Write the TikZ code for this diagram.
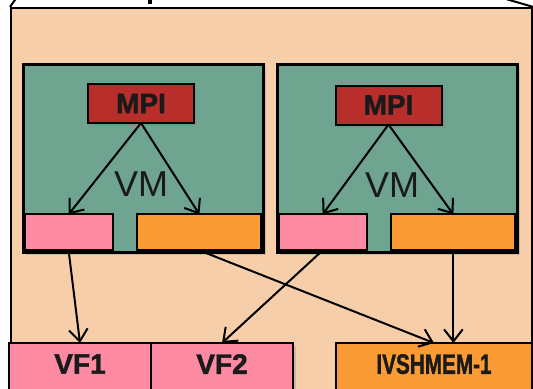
\documentclass[tikz,border=0pt]{standalone}
\usepackage{fontspec}
\usepackage{graphicx}
\setmainfont[BoldFeatures={FakeBold=1.6}]{Liberation Sans}
\usetikzlibrary{arrows.meta,positioning,shadows}

\definecolor{hostpeach}{HTML}{F6CEAA}
\definecolor{vmteal}{HTML}{6FA491}
\definecolor{mpired}{HTML}{B82E2B}
\definecolor{vfpink}{HTML}{FB8AA2}
\definecolor{shmorange}{HTML}{FA9B36}
\definecolor{inktext}{HTML}{1A1A1A}

\begin{document}
\begin{tikzpicture}[
    x=0.75pt, y=-0.75pt,
    box/.style={
      draw,
      line width=1.5pt,
      inner sep=0pt,
      outer sep=0pt,
      text=inktext,
      font=\bfseries\fontsize{21}{21}\selectfont
    },
    shadowed/.style={drop shadow={shadow xshift=2.5pt, shadow yshift=-2.5pt, opacity=0.3}},
    vmbox/.style={box, shadowed, line width=2.25pt, fill=vmteal, minimum width=180pt, minimum height=141pt, anchor=north west},
    mpibox/.style={box, shadowed, fill=mpired, minimum width=79.5pt, minimum height=29.25pt},
    nicbox/.style={box, minimum height=27pt},
    devbox/.style={box, shadowed, minimum width=106.5pt, minimum height=37.5pt, text depth=6pt, anchor=north west},
    vmlabel/.style={text=inktext, font=\fontsize{27}{27}\selectfont},
    arrow/.style={-{Straight Barb[length=9pt,width=14pt]}, line width=1.5pt}
  ]
    \useasboundingbox (0,0) rectangle (533,389);

    % host frame
    \node[draw, line width=1.8pt, fill=hostpeach, minimum width=390.75pt, minimum height=300pt, anchor=north west] (host) at (10,7) {};
    \draw[line width=1.5pt] (host.north west) -- (17,-3);
    \draw[line width=1.5pt] (host.north east) -- (506,-1);
    \draw[line width=2.5pt] (150,-3) -- (150,4);

    % first VM
    \node[vmbox] (vm1) at (23,64) {};
    \node[mpibox] (mpi1) at (141,103.5) {MPI};
    \node[vmlabel] (vmtext1) at (141,184) {VM};
    \node[nicbox, fill=vfpink, minimum width=66pt, anchor=south west] (vnic1) at ([shift={(1.2pt,1.2pt)}]vm1.south west) {};
    \node[nicbox, fill=shmorange, minimum width=93pt, anchor=south east] (vshm1) at ([shift={(-1.2pt,1.2pt)}]vm1.south east) {};

    % second VM
    \node[vmbox] (vm2) at (277,64) {};
    \node[mpibox] (mpi2) at (388.5,105) {MPI};
    \node[vmlabel] (vmtext2) at (392,185) {VM};
    \node[nicbox, fill=vfpink, minimum width=66pt, anchor=south west] (vnic2) at ([shift={(1.2pt,1.2pt)}]vm2.south west) {};
    \node[nicbox, fill=shmorange, minimum width=93pt, anchor=south east] (vshm2) at ([shift={(-1.2pt,1.2pt)}]vm2.south east) {};

    % devices
    \node[devbox, fill=vfpink] (vf1) at (9,343) {VF1};
    \node[devbox, fill=vfpink, right=0pt of vf1] (vf2) {VF2};
    \node[devbox, fill=shmorange, minimum width=147pt] (shm) at (336,343) {\scalebox{0.74}[1]{IVSHMEM-1}};

    \draw[arrow] (mpi1.south) -- (vnic1.north);
    \draw[arrow] (mpi1.south) -- (vshm1.north);
    \draw[arrow] (mpi2.south) -- (vnic2.north);
    \draw[arrow] (mpi2.south) -- (vshm2.north);
    \draw[arrow] (vnic1.south) -- (vf1.north);
    \draw[arrow] (vshm1.south) -- (shm.north);
    \draw[arrow] (vnic2.south) -- (vf2.north);
    \draw[arrow] (vshm2.south) -- (vshm2.south |- shm.north);
  \end{tikzpicture}
\end{document}
